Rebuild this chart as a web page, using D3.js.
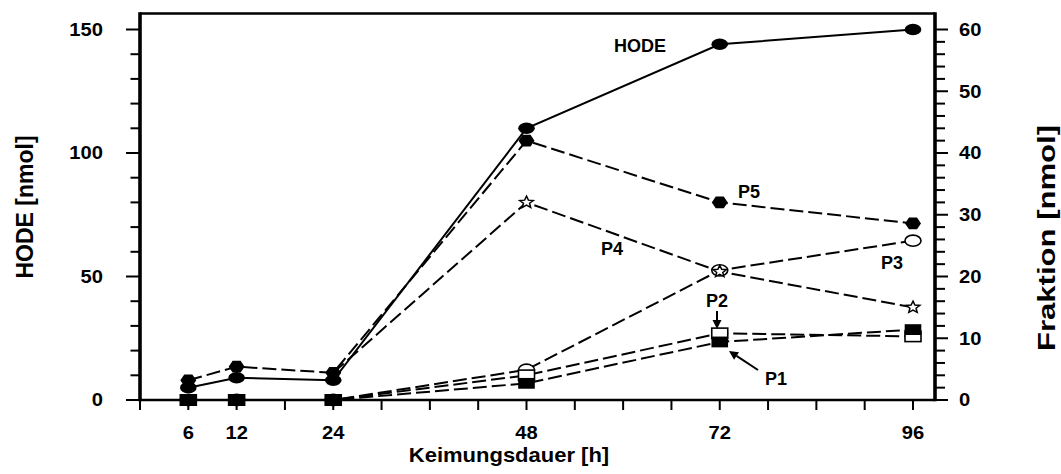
<!DOCTYPE html>
<html>
<head>
<meta charset="utf-8">
<script src="https://cdn.jsdelivr.net/npm/d3@7"></script>
<style>
  html, body { margin: 0; padding: 0; background: #fff; }
  svg { display: block; }
  text { font-family: "Liberation Sans", Arial, sans-serif; font-weight: bold; fill: #000; }
</style>
</head>
<body>
<svg id="chart" width="1061" height="474"></svg>
<script>
// Germination time points (hours)
const hours = [6, 12, 24, 48, 72, 96];
const xTickLabels = [6, 12, 24, 48, 72, 96];

// HODE total (left axis, nmol)
const hode = [5, 9, 8, 110, 144, 150];

// Fractions (right axis, nmol)
const p5 = [3.2, 5.4, 4.4, 42, 32, 28.6];
const p4 = [null, null, 4.4, 32, 20.8, 15];
const p3 = [0, 0, 0, 4.9, 21, 25.8];
const p2 = [0, 0, 0, 4, 10.8, 10.3];
const p1 = [0, 0, 0, 2.7, 9.4, 11.4];

const leftTicks = [0, 50, 100, 150];
const rightTicks = [0, 10, 20, 30, 40, 50, 60];

const svg = d3.select("#chart");

const frameLeft = 140, frameRight = 935, frameTop = 13.5, frameBottom = 400;
const wide = 1.12; // horizontal widening of the number glyphs

const x = d3.scaleLinear().domain([0, 96]).range([140, 913]);
const yL = d3.scaleLinear().domain([0, 150]).range([frameBottom, 29.5]);
const yR = d3.scaleLinear().domain([0, 60]).range([frameBottom, 29.5]);

// Frame
svg.append("line").attr("x1", frameLeft).attr("x2", frameRight).attr("y1", frameTop).attr("y2", frameTop)
  .attr("stroke", "#000").attr("stroke-width", 2.7);
svg.append("line").attr("x1", frameLeft).attr("x2", frameLeft).attr("y1", frameTop - 1.3).attr("y2", frameBottom + 1.3)
  .attr("stroke", "#000").attr("stroke-width", 3.6);
svg.append("line").attr("x1", frameRight).attr("x2", frameRight).attr("y1", frameTop - 1.3).attr("y2", frameBottom + 1.3)
  .attr("stroke", "#000").attr("stroke-width", 3.6);
svg.append("line").attr("x1", frameLeft).attr("x2", frameRight).attr("y1", frameBottom).attr("y2", frameBottom)
  .attr("stroke", "#000").attr("stroke-width", 2.7);

// Left axis ticks: minor every 10, major every 50
const gL = svg.append("g");
gL.selectAll("line").data(d3.range(0, 151, 10)).join("line")
  .attr("x1", d => frameLeft - (d % 50 === 0 ? 14 : 9.5)).attr("x2", frameLeft)
  .attr("y1", d => yL(d)).attr("y2", d => yL(d))
  .attr("stroke", "#000").attr("stroke-width", 2);
gL.selectAll("text").data(leftTicks).join("text")
  .attr("transform", d => `translate(103,${yL(d)}) scale(${wide},1)`).attr("dy", "0.35em")
  .attr("text-anchor", "end").attr("font-size", 18).text(d => d);

// Right axis ticks: minor every 2, major every 10
const gR = svg.append("g");
gR.selectAll("line").data(d3.range(0, 61, 2)).join("line")
  .attr("x1", frameRight).attr("x2", d => frameRight + (d % 10 === 0 ? 13 : 10))
  .attr("y1", d => yR(d)).attr("y2", d => yR(d))
  .attr("stroke", "#000").attr("stroke-width", 2);
gR.selectAll("text").data(rightTicks).join("text")
  .attr("transform", d => `translate(959,${yR(d)}) scale(${wide},1)`).attr("dy", "0.35em")
  .attr("text-anchor", "start").attr("font-size", 18).text(d => d);

// Bottom axis ticks every 6 h
const gB = svg.append("g");
gB.selectAll("line").data(d3.range(0, 97, 6)).join("line")
  .attr("x1", d => x(d)).attr("x2", d => x(d))
  .attr("y1", frameBottom).attr("y2", frameBottom + 10)
  .attr("stroke", "#000").attr("stroke-width", 2);
gB.selectAll("text").data(xTickLabels).join("text")
  .attr("transform", d => `translate(${x(d)},433) scale(${wide},1)`).attr("dy", "0.35em")
  .attr("text-anchor", "middle").attr("font-size", 18).text(d => d);

// Axis titles
svg.append("text").attr("transform", "translate(509,455) scale(1.1,1)").attr("dy", "0.35em")
  .attr("text-anchor", "middle").attr("font-size", 20).text("Keimungsdauer [h]");
svg.append("text").attr("transform", "translate(25,207) rotate(-90)").attr("dy", "0.35em")
  .attr("text-anchor", "middle").attr("font-size", 23).text("HODE [nmol]");
svg.append("text").attr("transform", "translate(1047,238) rotate(-90)").attr("dy", "0.35em")
  .attr("text-anchor", "middle").attr("font-size", 23)
  .attr("textLength", 226).attr("lengthAdjust", "spacingAndGlyphs").text("Fraktion [nmol]");

// Series lines
function toPts(vals) { return hours.map((h, i) => [h, vals[i]]); }
const lineL = d3.line().defined(d => d[1] != null).x(d => x(d[0])).y(d => yL(d[1]));
const lineR = d3.line().defined(d => d[1] != null).x(d => x(d[0])).y(d => yR(d[1]));

const dashed = "14,5";
[p1, p2, p3, p4, p5].forEach(s => {
  svg.append("path").attr("d", lineR(toPts(s)))
    .attr("fill", "none").attr("stroke", "#000").attr("stroke-width", 2)
    .attr("stroke-dasharray", dashed);
});
svg.append("path").attr("d", lineL(toPts(hode)))
  .attr("fill", "none").attr("stroke", "#000").attr("stroke-width", 2);

// Marker shapes
const hexPath = "M-8,0 L-4,-5.8 L4,-5.8 L8,0 L4,5.8 L-4,5.8 Z";
function starPath(ro, ri) {
  const pts = [];
  for (let k = 0; k < 10; k++) {
    const r = k % 2 === 0 ? ro : ri;
    const a = -Math.PI / 2 + k * Math.PI / 5;
    pts.push([r * Math.cos(a) * 1.15, r * Math.sin(a)]);
  }
  return "M" + pts.map(p => p.join(",")).join("L") + "Z";
}
const star = starPath(6.2, 2.8);

function markers(vals, yS, draw) {
  const g = svg.append("g");
  toPts(vals).filter(d => d[1] != null).forEach(d => {
    const gg = g.append("g").attr("transform", `translate(${x(d[0])},${yS(d[1])})`);
    draw(gg);
  });
}

// open circles (P3)
markers(p3, yR, g => g.append("ellipse").attr("rx", 8).attr("ry", 5.6)
  .attr("fill", "#fff").attr("stroke", "#000").attr("stroke-width", 1.6));
// stars (P4), drawn from 48 h on
markers(p4.map((v, i) => (i < 3 ? null : v)), yR, g => g.append("path").attr("d", star)
  .attr("fill", "#fff").attr("stroke", "#000").attr("stroke-width", 1.5));
// open squares (P2)
markers(p2, yR, g => g.append("rect").attr("x", -8).attr("y", -5.2).attr("width", 16).attr("height", 10.4)
  .attr("fill", "#fff").attr("stroke", "#000").attr("stroke-width", 1.6));
// filled squares (P1)
markers(p1, yR, g => g.append("rect").attr("x", -8.3).attr("y", -5.4).attr("width", 16.6).attr("height", 10.8)
  .attr("fill", "#000"));
// filled hexagons (P5)
markers(p5, yR, g => g.append("path").attr("d", hexPath).attr("fill", "#000"));
// filled circles (HODE)
markers(hode, yL, g => g.append("ellipse").attr("rx", 8.3).attr("ry", 5.7).attr("fill", "#000"));

// Series labels
const labels = [
  { t: "HODE", x: 640, y: 46 },
  { t: "P5", x: 749, y: 192 },
  { t: "P4", x: 612, y: 249 },
  { t: "P3", x: 892, y: 263 },
  { t: "P2", x: 717, y: 301 },
  { t: "P1", x: 776, y: 379 }
];
svg.append("g").selectAll("text").data(labels).join("text")
  .attr("x", d => d.x).attr("y", d => d.y).attr("dy", "0.35em")
  .attr("text-anchor", "middle").attr("font-size", 18).text(d => d.t);

// Pointer arrows for P2 and P1
function arrow(x1, y1, x2, y2) {
  const ang = Math.atan2(y2 - y1, x2 - x1);
  const len = 9, half = 4.5;
  const bx = x2 - len * Math.cos(ang), by = y2 - len * Math.sin(ang);
  svg.append("line").attr("x1", x1).attr("y1", y1).attr("x2", bx).attr("y2", by)
    .attr("stroke", "#000").attr("stroke-width", 2);
  const px = -Math.sin(ang) * half, py = Math.cos(ang) * half;
  svg.append("path")
    .attr("d", `M${x2},${y2} L${bx + px},${by + py} L${bx - px},${by - py} Z`)
    .attr("fill", "#000");
}
arrow(717, 311, 717, 329);
arrow(758, 370, 729, 351);
</script>
</body>
</html>
